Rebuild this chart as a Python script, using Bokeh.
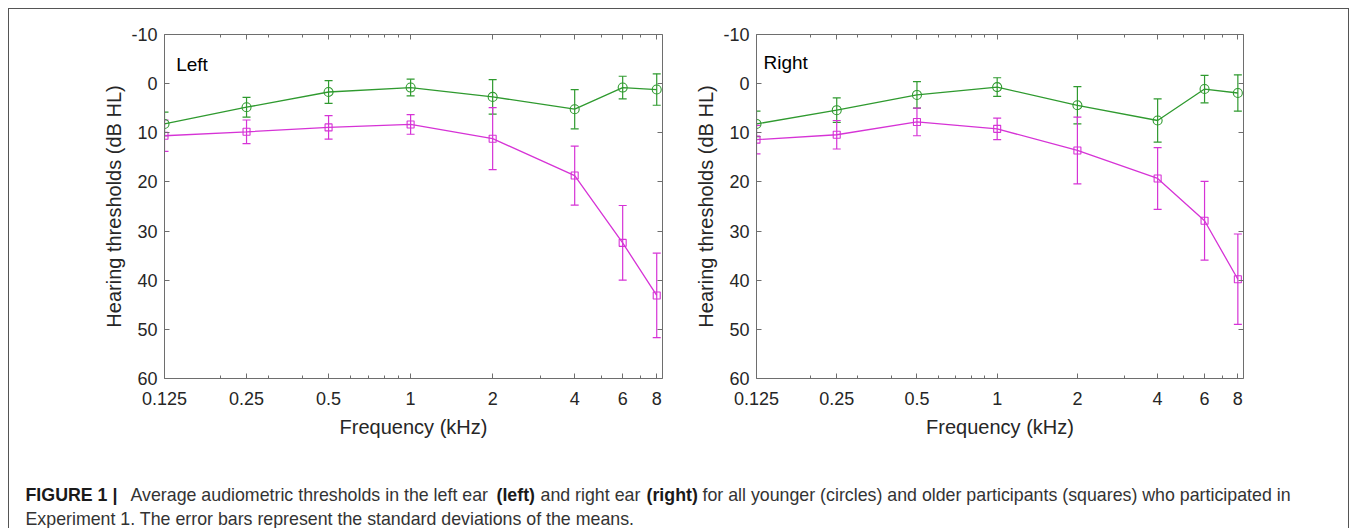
from bokeh.plotting import figure
from bokeh.models import (Range1d, FixedTicker, LogAxis, LinearAxis, Label,
                          Whisker, ColumnDataSource, TeeHead, CustomJSTickFormatter)
from bokeh.layouts import row, column
from bokeh.embed import file_html
from bokeh.resources import INLINE

# ---------------- data ----------------
freqs = [0.125, 0.25, 0.5, 1, 2, 4, 6, 8]
freq_labels = ["0.125", "0.25", "0.5", "1", "2", "4", "6", "8"]
minor_freqs = [0.2, 0.3, 0.4, 0.6, 0.7, 0.8, 0.9, 3, 5, 7]
y_ticks = [-10, 0, 10, 20, 30, 40, 50, 60]
y_labels = ["-10", "0", "10", "20", "30", "40", "50", "60"]

left_young_mean = [8.2, 4.8, 1.7, 0.8, 2.7, 5.2, 0.8, 1.2]
left_young_sd = [2.4, 2.0, 2.3, 1.7, 3.5, 4.0, 2.3, 3.2]
left_old_mean = [10.6, 9.8, 8.9, 8.3, 11.2, 18.7, 32.4, 43.1]
left_old_sd = [3.2, 2.4, 2.4, 2.0, 6.3, 6.0, 7.6, 8.6]

right_young_mean = [8.2, 5.4, 2.3, 0.7, 4.4, 7.5, 1.1, 1.9]
right_young_sd = [2.6, 2.5, 2.7, 1.9, 3.8, 4.4, 2.8, 3.7]
right_old_mean = [11.4, 10.4, 7.8, 9.2, 13.6, 19.3, 27.9, 39.8]
right_old_sd = [2.9, 2.9, 2.8, 2.2, 6.8, 6.3, 8.0, 9.2]

GREEN = "#2f9a2f"
MAGENTA = "#d633d6"
AXIS = "#6e6e6e"
TXT = "#262626"
FONT = "Liberation Sans"


def style_axis(ax, labels=True):
    ax.axis_line_color = AXIS
    ax.major_tick_line_color = AXIS
    ax.minor_tick_line_color = AXIS
    ax.major_tick_in = 5
    ax.major_tick_out = 0
    ax.minor_tick_in = 3
    ax.minor_tick_out = 0
    ax.major_label_text_font = FONT
    ax.major_label_text_font_size = "18px"
    ax.major_label_text_color = TXT
    ax.axis_label_text_font = FONT
    ax.axis_label_text_font_size = "20px"
    ax.axis_label_text_font_style = "normal"
    ax.axis_label_text_color = TXT
    if not labels:
        ax.formatter = CustomJSTickFormatter(code="return ''")
        ax.major_label_standoff = 0


def series(p, means, sds, color, marker, size):
    src = ColumnDataSource(dict(
        x=freqs, y=means,
        lower=[m - s for m, s in zip(means, sds)],
        upper=[m + s for m, s in zip(means, sds)]))
    p.add_layout(Whisker(base="x", lower="lower", upper="upper", source=src,
                         line_color=color, line_width=1.2,
                         upper_head=TeeHead(size=8, line_color=color, line_width=1.2),
                         lower_head=TeeHead(size=8, line_color=color, line_width=1.2)))
    p.line("x", "y", source=src, line_color=color, line_width=1.3)
    p.scatter("x", "y", source=src, marker=marker, size=size, fill_color=None,
              line_color=color, line_width=1.1)


def panel(width, height, mbl, mbr, mbt, mbb, young_m, young_s, old_m, old_s,
          name, name_x, name_y, ylab_standoff):
    p = figure(width=width, height=height, x_axis_type="log",
               x_range=Range1d(0.125, 8.4), y_range=Range1d(60, -10),
               output_backend="svg", toolbar_location=None,
               min_border_left=mbl, min_border_right=mbr,
               min_border_top=mbt, min_border_bottom=mbb,
               background_fill_color="white", border_fill_color="white")
    p.outline_line_color = None
    p.xgrid.visible = False
    p.ygrid.visible = False
    p.xaxis.ticker = FixedTicker(ticks=freqs, minor_ticks=minor_freqs)
    p.yaxis.ticker = FixedTicker(ticks=y_ticks, minor_ticks=[])
    p.xaxis.major_label_overrides = {f: l for f, l in zip(freqs, freq_labels)}
    p.yaxis.major_label_overrides = {v: l for v, l in zip(y_ticks, y_labels)}
    p.xaxis.axis_label = "Frequency (kHz)"
    p.yaxis.axis_label = "Hearing thresholds (dB HL)"
    for ax in p.xaxis:
        style_axis(ax)
        ax.major_label_standoff = 13
        ax.axis_label_standoff = 8
    for ax in p.yaxis:
        style_axis(ax)
        ax.major_label_standoff = 7
        ax.axis_label_standoff = ylab_standoff
    top = LogAxis(ticker=FixedTicker(ticks=freqs, minor_ticks=minor_freqs))
    style_axis(top, labels=False)
    p.add_layout(top, "above")
    rgt = LinearAxis(ticker=FixedTicker(ticks=y_ticks, minor_ticks=[]))
    style_axis(rgt, labels=False)
    p.add_layout(rgt, "right")

    series(p, young_m, young_s, GREEN, "circle", 9)
    series(p, old_m, old_s, MAGENTA, "square", 7)

    p.add_layout(Label(x=name_x, y=name_y, text=name, text_font=FONT,
                       text_font_size="19px", text_color="black",
                       text_baseline="alphabetic", text_align="left"))
    return p


p1 = panel(681, 441, 155, 28, 25, 70, left_young_mean, left_young_sd,
           left_old_mean, left_old_sd, "Left", 0.138, -3.9, 3)
p2 = panel(658, 441, 66, 105, 25, 72, right_young_mean, right_young_sd,
           right_old_mean, right_old_sd, "Right", 0.1328, -4.3, 3)

# ---------------- caption ----------------
CAP_H = 78
cap = figure(width=1339, height=CAP_H, x_range=Range1d(0, 1339), y_range=Range1d(0, CAP_H),
             output_backend="svg", toolbar_location=None, min_border=0,
             x_axis_location=None, y_axis_location=None)
cap.outline_line_color = None
cap.xgrid.visible = False
cap.ygrid.visible = False

L1 = CAP_H - 44
L2 = CAP_H - 68
segments = [
    ("FIGURE 1 |", 16, L1, "bold", "#1a1a1a"),
    ("Average audiometric thresholds in the left ear", 121, L1, "normal", "#333333"),
    ("(left)", 487, L1, "bold", "#1a1a1a"),
    ("and right ear", 531, L1, "normal", "#333333"),
    ("(right)", 637, L1, "bold", "#1a1a1a"),
    ("for all younger (circles) and older participants (squares) who participated in",
     693, L1, "normal", "#333333"),
    ("Experiment 1. The error bars represent the standard deviations of the means.",
     16, L2, "normal", "#333333"),
]
for t, x, y, style, col in segments:
    cap.add_layout(Label(x=x, y=y, text=t, text_font=FONT, text_font_size="17.8px",
                         text_font_style=style, text_color=col,
                         text_baseline="alphabetic", text_align="left"))

layout = column(row(p1, p2), cap, margin=(8, 0, 0, 8),
                styles={"border-top": "1px solid #555555",
                        "border-left": "1px solid #555555",
                        "border-right": "1px solid #555555"})

open("out.html", "w").write(file_html(layout, INLINE))
